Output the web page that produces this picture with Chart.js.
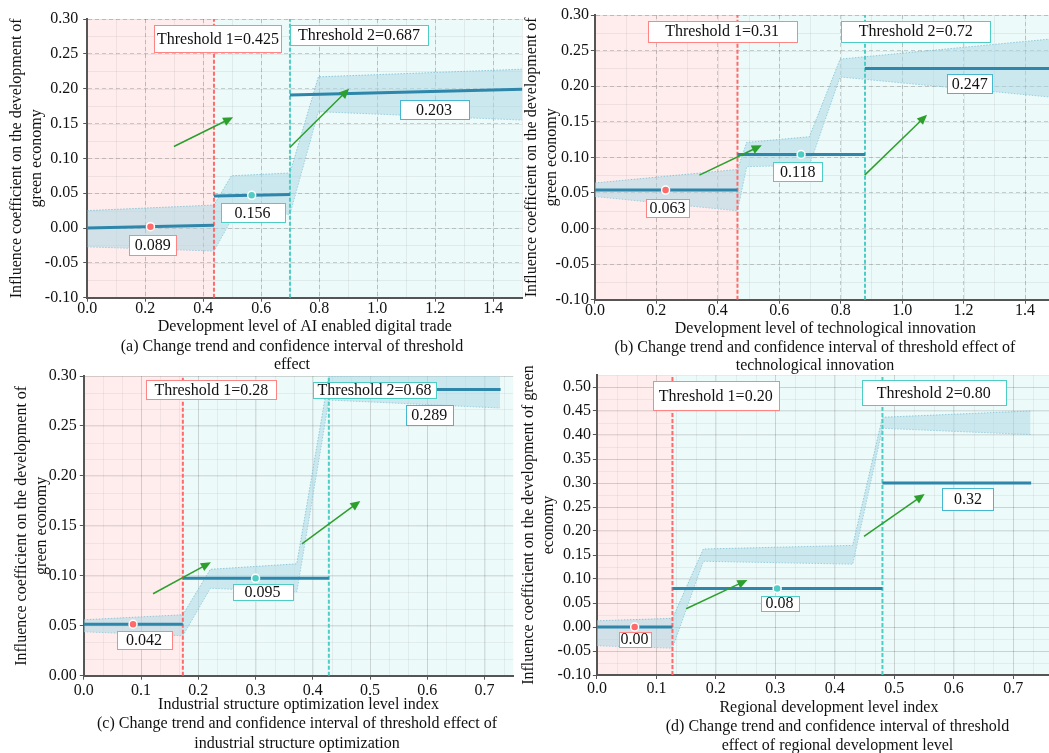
<!DOCTYPE html>
<html>
<head>
<meta charset="utf-8">
<script src="https://cdn.jsdelivr.net/npm/chart.js@4.4.1/dist/chart.umd.min.js"></script>
<style>
  html, body { margin: 0; padding: 0; background: #fff; overflow: hidden; }
  body { width: 1049px; height: 753px; position: relative; }
  canvas { position: absolute; }
</style>
</head>
<body>
<canvas id="chartA" width="584" height="378" style="left:0;top:0"></canvas>
<canvas id="chartB" width="590" height="378" style="left:520px;top:0"></canvas>
<canvas id="chartC" width="594" height="393" style="left:0;top:360px"></canvas>
<canvas id="chartD" width="639" height="396" style="left:518px;top:360px"></canvas>
<script>
// (a) AI enabled digital trade
const thresholdsA = [0.437, 0.699];
const thresholdTextA = ['0.425', '0.687'];
const coefTextA = ['0.089', '0.156', '0.203'];
const segXA = [[0, 0.437], [0.437, 0.699], [0.699, 1.5]];
const segYA = [[0.000, 0.004], [0.046, 0.048], [0.191, 0.199]];
const dotXA = [0.218, 0.567];
const dotYA = [0.002, 0.047];
const bandXA = [0, 0.437, 0.497, 0.699, 0.797, 1.5];
const bandHiA = [0.025, 0.033, 0.075, 0.079, 0.217, 0.228];
const bandLoA = [-0.027, -0.033, 0.012, 0.020, 0.167, 0.155];
const arrowsA = [[0.299, 0.117, 0.503, 0.159], [0.699, 0.116, 0.903, 0.200]];

// (b) technological innovation
const thresholdsB = [0.464, 0.879];
const thresholdTextB = ['0.31', '0.72'];
const coefTextB = ['0.063', '0.118', '0.247'];
const segXB = [[0, 0.464], [0.464, 0.879], [0.879, 1.5]];
const segYB = [[0.054, 0.054], [0.104, 0.104], [0.225, 0.225]];
const dotXB = [0.230, 0.671];
const dotYB = [0.054, 0.104];
const bandXB = [0, 0.464, 0.494, 0.698, 0.798, 1.5];
const bandHiB = [0.064, 0.083, 0.121, 0.129, 0.238, 0.267];
const bandLoB = [0.045, 0.025, 0.087, 0.089, 0.213, 0.184];
const arrowsB = [[0.340, 0.075, 0.543, 0.117], [0.878, 0.075, 1.081, 0.160]];

// (c) industrial structure optimization
const thresholdsC = [0.173, 0.428];
const thresholdTextC = ['0.28', '0.68'];
const coefTextC = ['0.042', '0.095', '0.289'];
const segXC = [[0, 0.173], [0.173, 0.428], [0.428, 0.728]];
const segYC = [[0.0515, 0.0515], [0.0975, 0.0975], [0.2865, 0.2865]];
const dotXC = [0.086, 0.300];
const dotYC = [0.0515, 0.0975];
const bandXC = [0, 0.173, 0.221, 0.372, 0.428, 0.727];
const bandHiC = [0.056, 0.061, 0.1065, 0.112, 0.300, 0.301];
const bandLoC = [0.044, 0.040, 0.0875, 0.084, 0.276, 0.268];
const arrowsC = [[0.121, 0.082, 0.222, 0.1135], [0.381, 0.132, 0.483, 0.175]];

// (d) regional development level
const thresholdsD = [0.127, 0.480];
const thresholdTextD = ['0.20', '0.80'];
const coefTextD = ['0.00', '0.08', '0.32'];
const segXD = [[0, 0.127], [0.127, 0.480], [0.480, 0.730]];
const segYD = [[0.000, 0.000], [0.080, 0.080], [0.300, 0.300]];
const dotXD = [0.0635, 0.303];
const dotYD = [0.000, 0.080];
const bandXD = [0, 0.127, 0.179, 0.430, 0.480, 0.729];
const bandHiD = [0.013, 0.018, 0.1625, 0.170, 0.437, 0.450];
const bandLoD = [-0.039, -0.044, 0.137, 0.131, 0.414, 0.401];
const arrowsD = [[0.150, 0.038, 0.253, 0.098], [0.449, 0.189, 0.551, 0.277]];

const RED = '#ff6b6b';
const RED_LABEL = '#ff8585';
const TEAL = '#4ecdc4';
const BLUE = '#45b7d1';
const LINE = '#2e86ab';
const GREEN = '#2ca02c';
const BAND = 'rgba(173,216,230,0.55)';
const BAND_EDGE = 'rgba(110,185,210,0.7)';

// where the label boxes sit (data units) and how big they are (px)
const spotsA = {
    coef: [{ x: 0.226, y: -0.0244, w: 47, h: 20 }, { x: 0.570, y: 0.0216, w: 64, h: 19 }, { x: 1.196, y: 0.170, w: 69, h: 19 }],
    thr: [{ x: 0.4507, y: 0.2717, w: 127, h: 27 }, { x: 0.937, y: 0.2775, w: 138, h: 20 }]
};
const spotsB = {
    coef: [{ x: 0.236, y: 0.0293, w: 43, h: 18 }, { x: 0.660, y: 0.0804, w: 49, h: 19 }, { x: 1.220, y: 0.204, w: 45, h: 19 }],
    thr: [{ x: 0.414, y: 0.2773, w: 149, h: 21 }, { x: 1.044, y: 0.2773, w: 149, h: 21 }]
};
const spotsC = {
    coef: [{ x: 0.1052, y: 0.0362, w: 55, h: 18 }, { x: 0.3123, y: 0.0838, w: 60, h: 16 }, { x: 0.6032, y: 0.261, w: 47, h: 20 }],
    thr: [{ x: 0.2228, y: 0.286, w: 130, h: 19 }, { x: 0.5078, y: 0.286, w: 123, h: 16 }]
};
const spotsD = {
    coef: [{ x: 0.0633, y: -0.0253, w: 32, h: 15 }, { x: 0.307, y: 0.0497, w: 38, h: 15 }, { x: 0.6238, y: 0.2671, w: 51, h: 22 }],
    thr: [{ x: 0.1997, y: 0.482, w: 126, h: 29 }, { x: 0.5663, y: 0.4883, w: 144, h: 25 }]
};

const dashedGrid = { major: 'rgba(0,0,0,0.18)', dash: [4, 3], minor: 'rgba(0,0,0,0.06)', minorX: 0.1, minorY: 0.025 };
const solidGrid = { major: 'rgba(0,0,0,0.11)', dash: [], minor: 'rgba(0,0,0,0.05)', minorX: 0.1 / 3, minorY: 0.05 / 3 };
const solidGridD = { major: 'rgba(0,0,0,0.11)', dash: [], minor: 'rgba(0,0,0,0.05)', minorX: 0.1 / 3, minorY: 0.025 };

const yTitle = ['Influence coefficient on the development of', 'green economy'];

const panels = [
    {
        id: 'chartA', xTitle: 'Development level of AI enabled digital trade', yTitle,
        caption: ['(a) Change trend and confidence interval of threshold', 'effect'],
        xMax: 1.5, xStep: 0.2, yMin: -0.1, yMax: 0.3,
        thresholds: thresholdsA, thresholdText: thresholdTextA, coefText: coefTextA,
        segX: segXA, segY: segYA, dotX: dotXA, dotY: dotYA,
        bandX: bandXA, bandHi: bandHiA, bandLo: bandLoA, arrows: arrowsA, spots: spotsA, grid: dashedGrid,
        frame: { padTop: 19, padBottom: 3.7, yWidth: 87.2, rightGap: 61.7, xHeight: 39.8, xTitlePad: 1.2, yTitlePad: 6.9, xTickPad: -3, yTickPad: 5, capLine: 1.15 }
    },
    {
        id: 'chartB', xTitle: 'Development level of technological innovation', yTitle,
        caption: ['(b) Change trend and confidence interval of threshold effect of', 'technological innovation'],
        xMax: 1.5, xStep: 0.2, yMin: -0.1, yMax: 0.3,
        thresholds: thresholdsB, thresholdText: thresholdTextB, coefText: coefTextB,
        segX: segXB, segY: segYB, dotX: dotXB, dotY: dotYB,
        bandX: bandXB, bandHi: bandHiB, bandLo: bandLoB, arrows: arrowsB, spots: spotsB, grid: dashedGrid,
        frame: { padTop: 15, padBottom: 3.9, yWidth: 74.9, rightGap: 54.2, xHeight: 39.2, xTitlePad: 1, yTitlePad: 1.8, xTickPad: -3, yTickPad: 2, capLine: 1.1 }
    },
    {
        id: 'chartC', xTitle: 'Industrial structure optimization level index', yTitle,
        caption: ['(c) Change trend and confidence interval of threshold effect of', 'industrial structure optimization'],
        xMax: 0.75, xStep: 0.1, yMin: 0, yMax: 0.3,
        thresholds: thresholdsC, thresholdText: thresholdTextC, coefText: coefTextC,
        segX: segXC, segY: segYC, dotX: dotXC, dotY: dotYC,
        bandX: bandXC, bandHi: bandHiC, bandLo: bandLoC, arrows: arrowsC, spots: spotsC, grid: solidGrid,
        frame: { padTop: 16, padBottom: 0, yWidth: 83.8, rightGap: 80.8, xHeight: 38.9, xTitlePad: 0, yTitlePad: 12, xTickPad: 1, yTickPad: 3, capLine: 1.2 }
    },
    {
        id: 'chartD', xTitle: 'Regional development level index',
        yTitle: ['Influence coefficient on the development of green', 'economy'],
        caption: ['(d) Change trend and confidence interval of threshold', 'effect of regional development level'],
        xMax: 0.78, xStep: 0.1, yMin: -0.1, yMax: 0.525,
        thresholds: thresholdsD, thresholdText: thresholdTextD, coefText: coefTextD,
        segX: segXD, segY: segYD, dotX: dotXD, dotY: dotYD,
        bandX: bandXD, bandHi: bandHiD, bandLo: bandLoD, arrows: arrowsD, spots: spotsD, grid: solidGridD,
        frame: { padTop: 15, padBottom: 0.3, yWidth: 78.9, rightGap: 96.1, xHeight: 42.3, xTitlePad: 0, yTitlePad: 0.4, xTickPad: 0, yTickPad: 2, capLine: 1.2 }
    }
];

Chart.defaults.font.family = '"Liberation Serif", "Times New Roman", serif';
Chart.defaults.font.size = 16;
Chart.defaults.color = '#111';

// regimes shading, minor grid, arrows and label boxes
const makeDecor = (p) => ({
    id: 'decor',
    beforeDraw(chart) {
        const { ctx, chartArea: a, scales: { x, y } } = chart;
        const t0 = x.getPixelForValue(p.thresholds[0]);
        ctx.save();
        ctx.fillStyle = 'rgba(255,107,107,0.12)';
        ctx.fillRect(a.left, a.top, t0 - a.left, a.bottom - a.top);
        ctx.fillStyle = 'rgba(78,205,196,0.11)';
        ctx.fillRect(t0, a.top, a.right - t0, a.bottom - a.top);

        ctx.strokeStyle = p.grid.minor;
        ctx.lineWidth = 1;
        ctx.beginPath();
        const nx = Math.floor((x.max - x.min) / p.grid.minorX + 1e-6);
        for (let i = 1; i <= nx; i++) {
            const px = Math.round(x.getPixelForValue(x.min + i * p.grid.minorX)) + 0.5;
            ctx.moveTo(px, a.top);
            ctx.lineTo(px, a.bottom);
        }
        const ny = Math.floor((y.max - y.min) / p.grid.minorY + 1e-6);
        for (let i = 1; i <= ny; i++) {
            const py = Math.round(y.getPixelForValue(y.min + i * p.grid.minorY)) + 0.5;
            ctx.moveTo(a.left, py);
            ctx.lineTo(a.right, py);
        }
        ctx.stroke();
        ctx.restore();
    },
    afterDatasetsDraw(chart) {
        const { ctx, scales: { x, y } } = chart;
        ctx.save();
        p.arrows.forEach(([x0, y0, x1, y1]) => {
            const ax = x.getPixelForValue(x0), ay = y.getPixelForValue(y0);
            const bx = x.getPixelForValue(x1), by = y.getPixelForValue(y1);
            const c = Math.cos(Math.atan2(by - ay, bx - ax));
            const s = Math.sin(Math.atan2(by - ay, bx - ax));
            ctx.strokeStyle = GREEN;
            ctx.fillStyle = GREEN;
            ctx.lineWidth = 1.5;
            ctx.beginPath();
            ctx.moveTo(ax, ay);
            ctx.lineTo(bx - 8 * c, by - 8 * s);
            ctx.stroke();
            ctx.beginPath();
            ctx.moveTo(bx, by);
            ctx.lineTo(bx - 10 * c + 4.5 * s, by - 10 * s - 4.5 * c);
            ctx.lineTo(bx - 10 * c - 4.5 * s, by - 10 * s + 4.5 * c);
            ctx.closePath();
            ctx.fill();
        });

        const boxes = [];
        p.spots.coef.forEach((b, i) => boxes.push({ ...b, text: p.coefText[i], color: [RED_LABEL, TEAL, BLUE][i] }));
        p.spots.thr.forEach((b, i) => boxes.push({ ...b, text: `Threshold ${i + 1}=${p.thresholdText[i]}`, color: i ? TEAL : RED_LABEL }));
        ctx.font = '16px "Liberation Serif", "Times New Roman", serif';
        ctx.textAlign = 'center';
        ctx.textBaseline = 'middle';
        boxes.forEach(b => {
            const cx = x.getPixelForValue(b.x), cy = y.getPixelForValue(b.y);
            const l = Math.round(cx - b.w / 2) + 0.5, t = Math.round(cy - b.h / 2) + 0.5;
            ctx.fillStyle = '#fff';
            ctx.fillRect(l, t, b.w, b.h);
            ctx.strokeStyle = b.color;
            ctx.lineWidth = 1;
            ctx.strokeRect(l, t, b.w, b.h);
            ctx.fillStyle = '#111';
            ctx.fillText(b.text, cx, cy + 1);
        });
        ctx.restore();
    }
});

const pts = (xs, ys) => xs.map((v, i) => ({ x: v, y: ys[i] }));

const drawPanel = (p) => {
    const f = p.frame;
    const datasets = [
        { label: 'CI upper', data: pts(p.bandX, p.bandHi), fill: '+1', backgroundColor: BAND, borderColor: BAND_EDGE, borderWidth: 1, borderDash: [1.5, 1.5], pointRadius: 0, order: 5 },
        { label: 'CI lower', data: pts(p.bandX, p.bandLo), fill: false, borderColor: BAND_EDGE, borderWidth: 1, borderDash: [1.5, 1.5], pointRadius: 0, order: 5 }
    ];
    p.thresholds.forEach((t, i) => datasets.push({
        label: `Threshold ${i + 1}`, data: [{ x: t, y: p.yMin }, { x: t, y: p.yMax }],
        borderColor: i ? TEAL : RED, borderWidth: 2, borderDash: [4, 2], pointRadius: 0, order: 3
    }));
    p.segX.forEach((xs, i) => datasets.push({
        label: `Regime ${i + 1}`, data: pts(xs, p.segY[i]),
        borderColor: LINE, borderWidth: 3, pointRadius: 0, order: 2
    }));
    datasets.push({
        label: 'Regime point', data: pts(p.dotX, p.dotY), showLine: false,
        pointRadius: 4, pointBackgroundColor: [RED, TEAL], pointBorderColor: '#fff', pointBorderWidth: 1.5, order: 1
    });

    const grid = { color: p.grid.major, lineWidth: 1, tickColor: '#555', tickLength: 4, tickWidth: 1 };
    const border = { display: true, color: '#555', width: 2, dash: p.grid.dash };

    new Chart(document.getElementById(p.id), {
        type: 'line',
        data: { datasets },
        options: {
            responsive: false,
            animation: false,
            devicePixelRatio: 1,
            layout: { padding: { top: f.padTop, bottom: f.padBottom, left: 0, right: 0 } },
            plugins: {
                legend: { display: false },
                tooltip: { enabled: false },
                title: {
                    display: true, position: 'bottom', text: p.caption, color: '#111',
                    font: { size: 16, weight: 'normal', lineHeight: f.capLine }, padding: { top: 0, bottom: 0 }
                }
            },
            scales: {
                x: {
                    type: 'linear', min: 0, max: p.xMax,
                    afterFit: (s) => { s.height = f.xHeight; },
                    ticks: { stepSize: p.xStep, includeBounds: false, padding: f.xTickPad, maxRotation: 0, autoSkip: false, callback: (v) => v.toFixed(1) },
                    grid, border,
                    title: { display: true, text: p.xTitle, color: '#111', padding: { top: 0, bottom: f.xTitlePad } }
                },
                y: {
                    type: 'linear', min: p.yMin, max: p.yMax,
                    afterFit: (s) => { s.width = f.yWidth; },
                    ticks: { stepSize: 0.05, includeBounds: false, padding: f.yTickPad, autoSkip: false, callback: (v) => v.toFixed(2) },
                    grid, border,
                    title: { display: true, text: p.yTitle, color: '#111', font: { size: 16, lineHeight: 1.25 }, padding: { top: f.yTitlePad, bottom: 0 } }
                },
                pad: {
                    type: 'linear', position: 'right', display: true,
                    grid: { display: false }, border: { display: false }, ticks: { display: false },
                    afterFit: (s) => { s.width = f.rightGap; }
                }
            }
        },
        plugins: [makeDecor(p)]
    });
};

panels.forEach(drawPanel);
</script>
</body>
</html>
